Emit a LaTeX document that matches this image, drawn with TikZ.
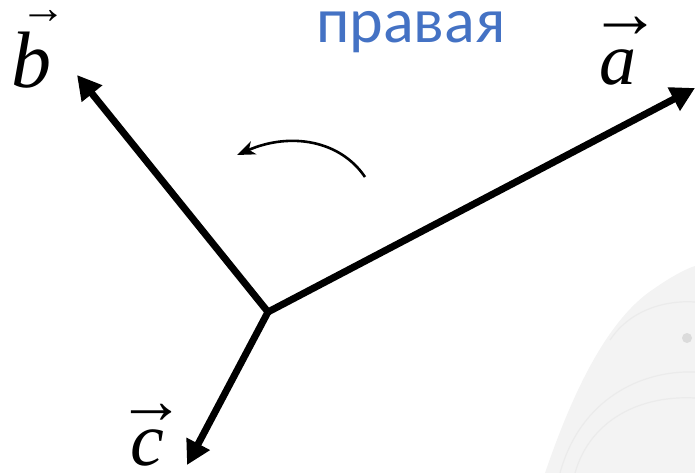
\documentclass[tikz,border=0pt]{standalone}
\usepackage{fontspec}
\setmainfont{Carlito}
\newfontfamily\vecfont{Liberation Serif}
\usetikzlibrary{arrows.meta,calc}
\definecolor{vrBlue}{HTML}{4472C4}
\definecolor{vrGhost}{HTML}{F3F3F3}
% letter with a small arrow over it: letter, arrow size, raise, shift
\newcommand{\vecsym}[4]{%
  \setbox0\hbox{\itshape #1}%
  \rlap{\kern#4\hbox to\wd0{\hss\raisebox{#3}{\fontsize{#2}{#2}\selectfont\upshape →}\hss}}\box0}
\tikzset{
  vecline/.style={-{Triangle[length=24pt,width=25pt]}, line width=7pt, black},
  turnarrow/.style={-{Stealth[length=18pt,width=14pt,inset=5pt]}, line width=2.6pt, black},
  veclabel/.style={anchor=base, inner sep=0pt, font=\vecfont},
  ghost/.style={draw=black!8, line width=1.2pt}
}
\begin{document}
\begin{tikzpicture}[x=1pt, y=-1pt]
  \useasboundingbox (0,0) rectangle (695,473);
  % faint picture in the corner
  \fill[vrGhost] (545,473) .. controls (570,400) and (605,320) .. (655,288)
    .. controls (672,276) and (688,268) .. (695,266) -- (695,473) -- cycle;
  \draw[ghost] (560,473) .. controls (580,400) and (640,370) .. (695,372);
  \draw[ghost] (575,473) .. controls (590,420) and (640,395) .. (695,398);
  \draw[ghost] (610,340) .. controls (630,310) and (665,300) .. (695,302);
  \fill[black!14] (687,338) circle (5);
  % vectors
  \coordinate (O) at (268,312);
  \coordinate (A) at (695,88);
  \coordinate (B) at (77,75);
  \coordinate (C) at (187,465);
  \draw[vecline] (O) -- (A);
  \draw[vecline] (O) -- (B);
  \draw[vecline] (O) -- (C);
  \node[veclabel] (la) at (618,85) {\fontsize{74}{74}\selectfont\vecsym{a}{72}{47pt}{7pt}};
  \node[veclabel] (lb) at (32,88) {\fontsize{80}{80}\selectfont\vecsym{b}{46}{64pt}{12pt}};
  \node[veclabel] (lc) at (147,465) {\fontsize{76}{76}\selectfont\vecsym{c}{68}{42pt}{4pt}};
  % rotation
  \coordinate (R1) at (365,177);
  \coordinate (R2) at (237,155);
  \draw[turnarrow] (R1) .. controls (340,140) and (290,132) .. (R2);
  \node[anchor=base, inner sep=0pt, text=vrBlue, font=\fontsize{64}{64}\selectfont] (title) at (411,43) {правая};
\end{tikzpicture}
\end{document}
